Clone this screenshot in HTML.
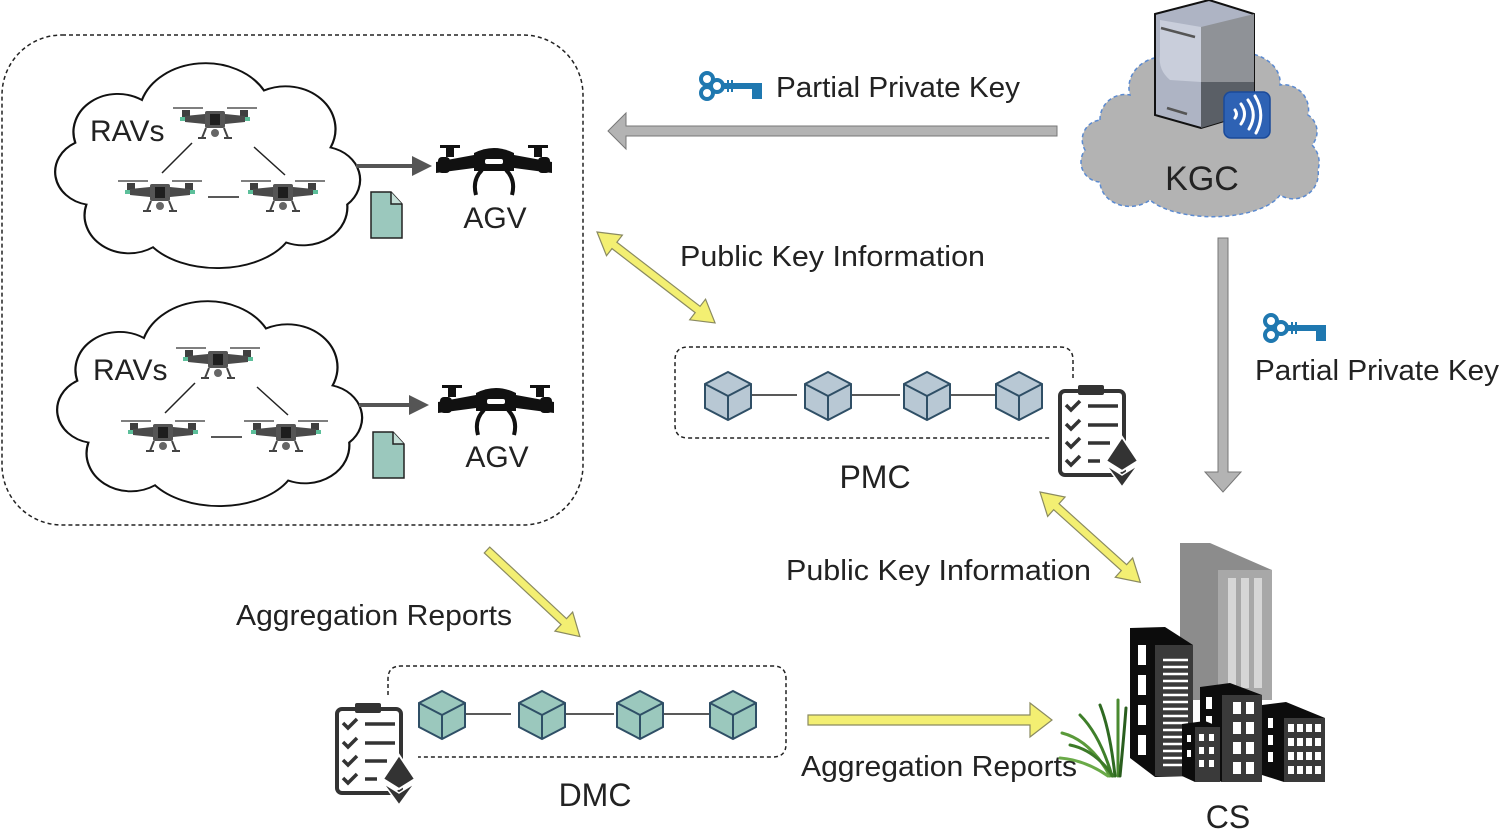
<!DOCTYPE html>
<html><head><meta charset="utf-8"><style>
html,body{margin:0;padding:0;background:#fff;}
svg{display:block;font-family:"Liberation Sans",sans-serif;}
</style></head><body>
<svg width="1500" height="830" viewBox="0 0 1500 830" xmlns="http://www.w3.org/2000/svg">
<defs>
  <path id="cloud" d="M40,150 A35,35 0 0 1 30,85 A40,40 0 0 1 90,40 A60,55 0 0 1 200,30 A45,45 0 0 1 260,90 A35,35 0 0 1 275,150 A40,40 0 0 1 220,190 A70,50 0 0 1 100,195 A40,40 0 0 1 40,150 Z"/>
  <g id="drone">
    <line x1="-42" y1="-12" x2="-12" y2="-12" stroke="#555" stroke-width="1.5"/>
    <line x1="12" y1="-12" x2="42" y2="-12" stroke="#555" stroke-width="1.5"/>
    <rect x="-33" y="-10" width="8" height="10" fill="#3f3f3f"/>
    <rect x="25" y="-10" width="8" height="10" fill="#3f3f3f"/>
    <rect x="-35" y="-3" width="12" height="4" fill="#5cbf9a"/>
    <rect x="23" y="-3" width="12" height="4" fill="#5cbf9a"/>
    <path d="M-30,-4 L-10,-6 L10,-6 L30,-4 L30,2 L10,4 L-10,4 L-30,2Z" fill="#4a4a4a"/>
    <rect x="-10" y="-9" width="20" height="17" rx="2" fill="#555"/>
    <rect x="-5" y="-6" width="10" height="11" fill="#1e1e1e"/>
    <circle cx="0" cy="13" r="4" fill="#666"/>
    <path d="M-9,8 L-13,18 M9,8 L13,18 M-17,18 L-9,18 M9,18 L17,18" stroke="#444" stroke-width="2" fill="none"/>
  </g>
  <g id="agv">
    <path d="M-58,-3 L-20,-10 L20,-10 L58,-3 L58,8 L20,3 L-20,3 L-58,8Z" fill="#111"/>
    <rect x="-56" y="-8" width="12" height="16" rx="4" fill="#111"/>
    <rect x="44" y="-8" width="12" height="16" rx="4" fill="#111"/>
    <rect x="-48" y="-18" width="8" height="10" fill="#111"/>
    <rect x="40" y="-18" width="8" height="10" fill="#111"/>
    <rect x="-54" y="-20" width="20" height="3" fill="#111"/>
    <rect x="34" y="-20" width="20" height="3" fill="#111"/>
    <path d="M-20,-12 Q0,-22 20,-12 L20,6 L-20,6Z" fill="#111"/>
    <rect x="-9" y="-6" width="18" height="5" rx="2" fill="#fff"/>
    <path d="M-12,5 Q-22,15 -18,30 M12,5 Q22,15 18,30" stroke="#111" stroke-width="4" fill="none"/>
  </g>
  <g id="cubeP">
    <polygon points="0,-24 23,-12 23,12 0,24 -23,12 -23,-12" fill="#b8c8d4" stroke="#2f4f66" stroke-width="2"/>
    <polyline points="-23,-12 0,0 23,-12" fill="none" stroke="#2f4f66" stroke-width="2"/>
    <line x1="0" y1="0" x2="0" y2="24" stroke="#2f4f66" stroke-width="2"/>
  </g>
  <g id="cubeD">
    <polygon points="0,-24 23,-12 23,12 0,24 -23,12 -23,-12" fill="#9bc8bd" stroke="#2f4f66" stroke-width="2"/>
    <polyline points="-23,-12 0,0 23,-12" fill="none" stroke="#2f4f66" stroke-width="2"/>
    <line x1="0" y1="0" x2="0" y2="24" stroke="#2f4f66" stroke-width="2"/>
  </g>
  <g id="clip">
    <rect x="2" y="6" width="64" height="84" rx="5" fill="#fff" stroke="#333" stroke-width="4"/>
    <rect x="20" y="0" width="26" height="10" rx="2" fill="#333"/>
    <g stroke="#333" stroke-width="3.5" fill="none">
      <path d="M8,20 L13,25 L22,16 M8,39 L13,44 L22,35 M8,57 L13,62 L22,53 M8,75 L13,80 L22,71"/>
      <path d="M30,21 L60,21 M30,40 L60,40 M30,58 L52,58 M30,76 L42,76"/>
    </g>
    <polygon points="64,52 80,76 64,86 48,76" fill="#333" stroke="#fff" stroke-width="2"/>
    <polygon points="48,80 64,90 80,80 64,102" fill="#333" stroke="#fff" stroke-width="1.5"/>
  </g>
  <g id="key">
    <circle cx="9" cy="7" r="6" fill="none" stroke="#1f78b0" stroke-width="4"/>
    <circle cx="9" cy="21" r="6" fill="none" stroke="#1f78b0" stroke-width="4"/>
    <circle cx="19" cy="14" r="6" fill="none" stroke="#1f78b0" stroke-width="4"/>
    <rect x="24" y="11" width="40" height="6" fill="#1f78b0"/>
    <rect x="54" y="14" width="10" height="13" fill="#1f78b0"/>
    <rect x="29" y="8" width="2" height="12" fill="#1f78b0"/>
    <rect x="33" y="8" width="2" height="12" fill="#1f78b0"/>
  </g>
  <g id="doc">
    <path d="M0,0 L20,0 L31,12 L31,46 L0,46 Z" fill="#9bc8bd" stroke="#222" stroke-width="1.5"/>
    <path d="M20,0 L20,12 L31,12" fill="#c5e0d8" stroke="#222" stroke-width="1.5"/>
  </g>
</defs>

<rect x="2" y="35" width="581" height="490" rx="60" fill="none" stroke="#222" stroke-width="1.5" stroke-dasharray="4,3"/>

<!-- cloud 1 -->
<use href="#cloud" transform="translate(42,62) scale(1.11,0.95)" fill="#fff" stroke="#111" stroke-width="2"/>
<text x="90" y="141" font-size="30" fill="#222">RAVs</text>
<line x1="192" y1="143" x2="162" y2="173" stroke="#222" stroke-width="1.5"/>
<line x1="254" y1="147" x2="285" y2="175" stroke="#222" stroke-width="1.5"/>
<line x1="208" y1="197" x2="239" y2="197" stroke="#222" stroke-width="1.5"/>
<use href="#drone" x="215" y="120"/>
<use href="#drone" x="160" y="193"/>
<use href="#drone" x="283" y="193"/>
<line x1="356" y1="166" x2="415" y2="166" stroke="#555" stroke-width="4"/>
<polygon points="412,156 432,166 412,176" fill="#555"/>
<use href="#doc" x="371" y="192"/>
<use href="#agv" x="494" y="165"/>
<text x="495" y="228" font-size="30" text-anchor="middle" fill="#222">AGV</text>

<!-- cloud 2 -->
<use href="#cloud" transform="translate(44,300) scale(1.11,0.95)" fill="#fff" stroke="#111" stroke-width="2"/>
<text x="93" y="380" font-size="30" fill="#222">RAVs</text>
<line x1="195" y1="383" x2="165" y2="413" stroke="#222" stroke-width="1.5"/>
<line x1="257" y1="387" x2="288" y2="415" stroke="#222" stroke-width="1.5"/>
<line x1="211" y1="437" x2="242" y2="437" stroke="#222" stroke-width="1.5"/>
<use href="#drone" x="218" y="360"/>
<use href="#drone" x="163" y="433"/>
<use href="#drone" x="286" y="433"/>
<line x1="359" y1="405" x2="412" y2="405" stroke="#555" stroke-width="4"/>
<polygon points="409,395 429,405 409,415" fill="#555"/>
<use href="#doc" x="373" y="432"/>
<use href="#agv" x="496" y="405"/>
<text x="497" y="467" font-size="30" text-anchor="middle" fill="#222">AGV</text>

<!-- KGC -->
<path d="M1100,120 A25,25 0 0 1 1130,95 A35,30 0 0 1 1200,80 A40,30 0 0 1 1280,85 A25,25 0 0 1 1308,115 A20,20 0 0 1 1312,145 A25,25 0 0 1 1318,170 A25,25 0 0 1 1280,195 A70,30 0 0 1 1150,200 A30,25 0 0 1 1100,182 A20,20 0 0 1 1085,150 A20,20 0 0 1 1100,120 Z" fill="#b3b3b3" stroke="#5b8ad0" stroke-width="1.5" stroke-dasharray="4,3"/>
<polygon points="1155,14 1209,0 1254,14 1254,112 1201,128 1155,115" fill="#aeb4c4" stroke="#111" stroke-width="2"/>
<polygon points="1201,27 1254,14 1254,82 1201,82" fill="#8f9297"/>
<polygon points="1201,82 1254,82 1254,112 1201,128" fill="#5a5f66"/>
<path d="M1160,20 L1201,27 L1201,82 L1170,80 Q1158,70 1160,55Z" fill="#c9cedb"/>
<line x1="1161" y1="28" x2="1195" y2="37" stroke="#555" stroke-width="2.5"/>
<line x1="1167" y1="108" x2="1187" y2="114" stroke="#555" stroke-width="2.5"/>
<rect x="1224" y="92" width="46" height="46" rx="7" fill="#2e62b4" stroke="#1a4a9a" stroke-width="1.5"/>
<g stroke="#fff" stroke-width="3" fill="none" stroke-linecap="round">
  <path d="M1235,110 Q1238,114 1235,118"/>
  <path d="M1241,104 Q1248,114 1241,124"/>
  <path d="M1248,100 Q1258,114 1249,129"/>
  <path d="M1255,96 Q1266,114 1256,133"/>
</g>
<text x="1202" y="190" font-size="34" text-anchor="middle" fill="#222">KGC</text>

<polygon points="1057,126 626,126 626,113 608,131 626,149 626,136 1057,136" fill="#b3b3b3" stroke="#777" stroke-width="1"/>
<use href="#key" x="698" y="72"/>
<text x="776" y="97" font-size="29" fill="#222" textLength="244" lengthAdjust="spacingAndGlyphs">Partial Private Key</text>

<polygon points="1218,238 1228,238 1228,472 1241,472 1223,492 1205,472 1218,472" fill="#b3b3b3" stroke="#777" stroke-width="1"/>
<use href="#key" x="1262" y="314"/>
<text x="1255" y="380" font-size="29" fill="#222" textLength="244" lengthAdjust="spacingAndGlyphs">Partial Private Key</text>

<g transform="translate(597,232) rotate(37.6)">
  <polygon points="0,0 22,-13 22,-4 127,-4 127,-13 149,0 127,13 127,4 22,4 22,13" fill="#f3ef72" stroke="#8a8a60" stroke-width="1.2"/>
</g>
<text x="680" y="266" font-size="29" fill="#222" textLength="305" lengthAdjust="spacingAndGlyphs">Public Key Information</text>

<!-- PMC -->
<path d="M1073,378 L1073,360 Q1073,347 1060,347 L688,347 Q675,347 675,360 L675,425 Q675,438 688,438 L1050,438" fill="none" stroke="#222" stroke-width="1.5" stroke-dasharray="4,3"/>
<line x1="751" y1="395" x2="797" y2="395" stroke="#222" stroke-width="1.5"/>
<line x1="851" y1="395" x2="900" y2="395" stroke="#222" stroke-width="1.5"/>
<line x1="950" y1="395" x2="996" y2="395" stroke="#222" stroke-width="1.5"/>
<use href="#cubeP" x="728" y="396"/>
<use href="#cubeP" x="828" y="396"/>
<use href="#cubeP" x="927" y="396"/>
<use href="#cubeP" x="1019" y="396"/>
<use href="#clip" x="1058" y="385"/>
<text x="875" y="488" font-size="32" text-anchor="middle" fill="#222">PMC</text>

<g transform="translate(1040,492) rotate(42)">
  <polygon points="0,0 22,-13 22,-4 113,-4 113,-13 135,0 113,13 113,4 22,4 22,13" fill="#f3ef72" stroke="#8a8a60" stroke-width="1.2"/>
</g>
<text x="786" y="580" font-size="29" fill="#222" textLength="305" lengthAdjust="spacingAndGlyphs">Public Key Information</text>

<g transform="translate(487,550) rotate(43)">
  <polygon points="0,-4 105,-4 105,-13 127,0 105,13 105,4 0,4" fill="#f3ef72" stroke="#8a8a60" stroke-width="1.2"/>
</g>
<text x="236" y="625" font-size="29" fill="#222" textLength="276" lengthAdjust="spacingAndGlyphs">Aggregation Reports</text>

<!-- DMC -->
<path d="M388,695 L388,679 Q388,666 401,666 L773,666 Q786,666 786,679 L786,744 Q786,757 773,757 L418,757" fill="none" stroke="#222" stroke-width="1.5" stroke-dasharray="4,3"/>
<line x1="465" y1="714" x2="511" y2="714" stroke="#222" stroke-width="1.5"/>
<line x1="565" y1="714" x2="614" y2="714" stroke="#222" stroke-width="1.5"/>
<line x1="663" y1="714" x2="710" y2="714" stroke="#222" stroke-width="1.5"/>
<use href="#cubeD" x="442" y="715"/>
<use href="#cubeD" x="542" y="715"/>
<use href="#cubeD" x="640" y="715"/>
<use href="#cubeD" x="733" y="715"/>
<use href="#clip" x="335" y="703"/>
<text x="595" y="806" font-size="32" text-anchor="middle" fill="#222">DMC</text>

<polygon points="808,715 1030,715 1030,703 1052,720 1030,737 1030,725 808,725" fill="#f3ef72" stroke="#8a8a60" stroke-width="1.2"/>
<text x="801" y="776" font-size="29" fill="#222" textLength="276" lengthAdjust="spacingAndGlyphs">Aggregation Reports</text>

<!-- CS buildings -->
<polygon points="1180,543 1210,543 1272,570 1272,700 1180,700" fill="#8c8c8c"/>
<polygon points="1218,570 1272,570 1272,700 1218,700" fill="#a8a8a8"/>
<rect x="1228" y="578" width="8" height="110" fill="#d6d6d6"/>
<rect x="1241" y="578" width="8" height="110" fill="#d6d6d6"/>
<rect x="1254" y="578" width="8" height="110" fill="#d6d6d6"/>
<polygon points="1130,628 1165,627 1193,645 1193,776 1155,777 1130,758" fill="#0c0c0c"/>
<rect x="1155" y="645" width="38" height="131" fill="#3a3a3a"/>
<g fill="#fff">
  <rect x="1138" y="645" width="8" height="20"/><rect x="1138" y="675" width="8" height="20"/><rect x="1138" y="705" width="8" height="20"/><rect x="1138" y="735" width="8" height="20"/>
</g>
<g stroke="#fff" stroke-width="2.5">
  <path d="M1163,660 H1188 M1163,667 H1188 M1163,674 H1188 M1163,681 H1188 M1163,688 H1188 M1163,695 H1188 M1163,702 H1188 M1163,709 H1188 M1163,716 H1188 M1163,723 H1188 M1163,730 H1188 M1163,737 H1188 M1163,744 H1188 M1163,751 H1188 M1163,758 H1188 M1163,765 H1188"/>
</g>
<polygon points="1200,687 1230,683 1262,695 1262,782 1222,782 1200,775" fill="#0c0c0c"/>
<rect x="1222" y="695" width="40" height="87" fill="#3a3a3a"/>
<g fill="#fff">
  <rect x="1206" y="697" width="6" height="12"/><rect x="1206" y="716" width="6" height="12"/>
  <rect x="1233" y="702" width="8" height="12"/><rect x="1246" y="702" width="8" height="12"/>
  <rect x="1233" y="722" width="8" height="12"/><rect x="1246" y="722" width="8" height="12"/>
  <rect x="1233" y="742" width="8" height="12"/><rect x="1246" y="742" width="8" height="12"/>
  <rect x="1233" y="762" width="8" height="12"/><rect x="1246" y="762" width="8" height="12"/>
</g>
<polygon points="1182,724 1205,721 1220,727 1220,782 1195,782 1182,776" fill="#0c0c0c"/>
<rect x="1195" y="727" width="25" height="55" fill="#3a3a3a"/>
<g fill="#fff">
  <rect x="1199" y="734" width="5" height="7"/><rect x="1209" y="734" width="5" height="7"/>
  <rect x="1199" y="747" width="5" height="7"/><rect x="1209" y="747" width="5" height="7"/>
  <rect x="1199" y="760" width="5" height="7"/><rect x="1209" y="760" width="5" height="7"/>
  <rect x="1187" y="735" width="4" height="7"/><rect x="1187" y="750" width="4" height="7"/>
</g>
<polygon points="1262,705 1286,702 1325,718 1325,782 1284,782 1262,775" fill="#0c0c0c"/>
<rect x="1284" y="718" width="41" height="64" fill="#3a3a3a"/>
<g fill="#fff">
  <rect x="1268" y="718" width="5" height="10"/><rect x="1268" y="735" width="5" height="10"/><rect x="1268" y="752" width="5" height="10"/>
  <rect x="1288" y="724" width="6" height="8"/><rect x="1297" y="724" width="6" height="8"/><rect x="1306" y="724" width="6" height="8"/><rect x="1315" y="724" width="6" height="8"/>
  <rect x="1288" y="738" width="6" height="8"/><rect x="1297" y="738" width="6" height="8"/><rect x="1306" y="738" width="6" height="8"/><rect x="1315" y="738" width="6" height="8"/>
  <rect x="1288" y="752" width="6" height="8"/><rect x="1297" y="752" width="6" height="8"/><rect x="1306" y="752" width="6" height="8"/><rect x="1315" y="752" width="6" height="8"/>
  <rect x="1288" y="766" width="6" height="8"/><rect x="1297" y="766" width="6" height="8"/><rect x="1306" y="766" width="6" height="8"/><rect x="1315" y="766" width="6" height="8"/>
</g>
<g fill="none" stroke-width="3" stroke-linecap="round">
  <path d="M1110,776 Q1090,740 1062,733" stroke="#5a9a3a"/>
  <path d="M1112,776 Q1100,735 1080,715" stroke="#3f7f2a"/>
  <path d="M1115,776 Q1110,730 1100,705" stroke="#2f6a22"/>
  <path d="M1118,776 Q1118,730 1118,700" stroke="#4a8a30"/>
  <path d="M1120,776 Q1124,735 1126,708" stroke="#2a5e1e"/>
  <path d="M1108,776 Q1085,760 1060,758" stroke="#6aaa48"/>
  <path d="M1113,776 Q1095,750 1070,745" stroke="#3c7a28"/>
</g>
<text x="1228" y="828" font-size="32" text-anchor="middle" fill="#222">CS</text>
</svg>
</body></html>
